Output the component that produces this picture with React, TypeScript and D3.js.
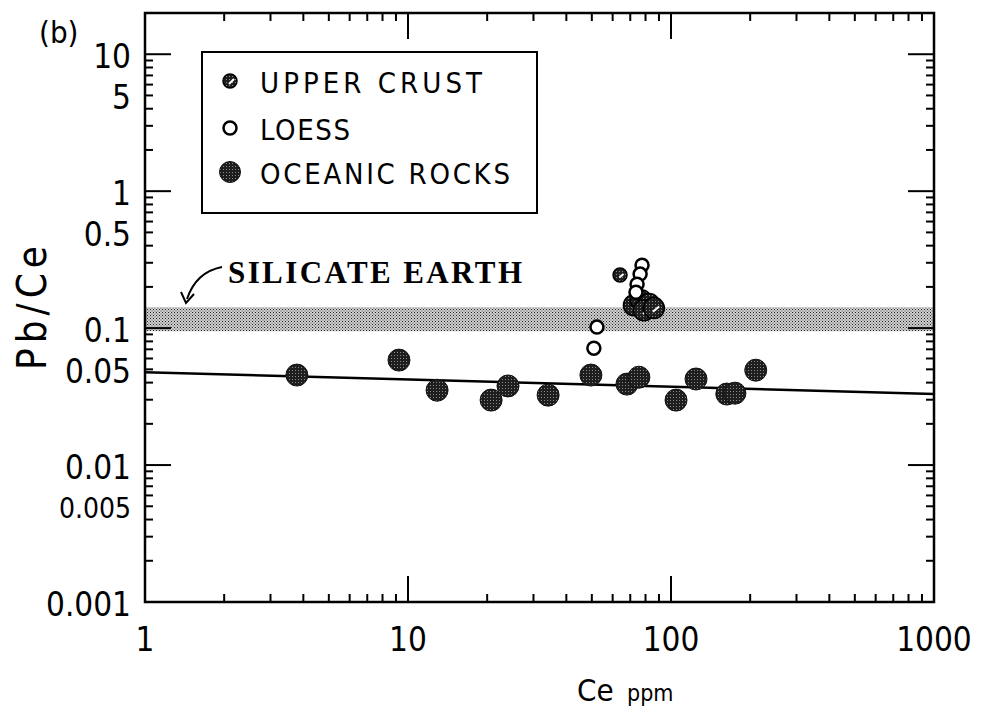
import React from "react";
import * as d3 from "d3";

// ---- Data ----
const oceanicCe = [3.78, 9.24, 12.9, 20.7, 24.0, 34.1, 49.6, 68.0, 75.5, 104.5, 124.5, 163, 175, 210];
const oceanicPbCe = [0.0454, 0.0584, 0.0352, 0.0298, 0.0378, 0.0324, 0.0454, 0.039, 0.0438, 0.0298, 0.0425, 0.033, 0.0335, 0.0493];

const crustCe = [64, 72.3, 76.9, 82.5, 78.9, 86.1];
const crustPbCe = [0.244, 0.147, 0.16, 0.15, 0.135, 0.14];
const crustSize = ["s", "l", "l", "l", "l", "l"];

const loessCe = [52.3, 50.9, 77.6, 76.3, 74.3, 73.6];
const loessPbCe = [0.1017, 0.0714, 0.288, 0.248, 0.209, 0.183];

const fitCe = [1, 1000];
const fitPbCe = [0.0477, 0.033];

const bandPbCe = [0.095, 0.142];

const xTickValues = [1, 10, 100, 1000];
const xTickLabels = ["1", "10", "100", "1000"];
const yTickValues = [10, 5, 1, 0.5, 0.1, 0.05, 0.01, 0.005, 0.001];
const yTickLabels = ["10", "5", "1", "0.5", "0.1", "0.05", "0.01", "0.005", "0.001"];

const legendLabels = ["UPPER  CRUST", "LOESS", "OCEANIC  ROCKS"];

export default function App() {
  const left = 145, right = 934, top = 13, bottom = 602;
  const x = d3.scaleLog().domain([1, 1000]).range([left, right]);
  const y = d3.scaleLog().domain([0.001, 20]).range([bottom, top]);

  const minorX: number[] = [];
  for (let d = 1; d < 1000; d *= 10) for (let k = 2; k <= 9; k++) minorX.push(d * k);
  const minorY: number[] = [];
  for (let d = 0.001; d < 10; d *= 10) for (let k = 2; k <= 9; k++) minorY.push(+(d * k).toPrecision(3));
  minorY.push(20);
  const majorX = [10, 100];
  const majorY = [0.01, 0.1, 1, 10];

  const line = d3.line<number>().x((_, i) => x(fitCe[i])).y((v) => y(v));
  const font = "'Liberation Sans Narrow','DejaVu Sans Condensed','Liberation Sans',Arial,sans-serif";
  const minorLen = 8, majorLen = 26;

  return (
    <svg width={997} height={720} style={{ position: "absolute", left: 0, top: 0, background: "#fff" }}>
      <defs>
        <pattern id="band" width="3" height="3" patternUnits="userSpaceOnUse">
          <rect width="3" height="3" fill="#d0d0d0" />
          <rect x="0" y="0" width="1" height="1" fill="#222" />
          <rect x="1.5" y="1.5" width="1" height="1" fill="#444" />
        </pattern>
        <pattern id="dark" width="3" height="3" patternUnits="userSpaceOnUse">
          <rect width="3" height="3" fill="#1e1e1e" />
          <rect x="1" y="1" width="1" height="1" fill="#8a8a8a" />
        </pattern>
      </defs>

      {/* silicate earth band */}
      <rect x={left} y={y(bandPbCe[1])} width={right - left} height={y(bandPbCe[0]) - y(bandPbCe[1])} fill="url(#band)" />

      {/* regression line */}
      <path d={line(fitPbCe) || ""} fill="none" stroke="#000" strokeWidth={2.5} />

      {/* axes frame */}
      <rect x={left} y={top} width={right - left} height={bottom - top} fill="none" stroke="#000" strokeWidth={2.5} />

      {/* ticks */}
      {minorX.map((v) => (
        <g key={"mx" + v}>
          <line x1={x(v)} x2={x(v)} y1={bottom} y2={bottom - minorLen} stroke="#000" strokeWidth={2} />
          <line x1={x(v)} x2={x(v)} y1={top} y2={top + minorLen} stroke="#000" strokeWidth={2} />
        </g>
      ))}
      {majorX.map((v) => (
        <g key={"Mx" + v}>
          <line x1={x(v)} x2={x(v)} y1={bottom} y2={bottom - majorLen} stroke="#000" strokeWidth={2} />
          <line x1={x(v)} x2={x(v)} y1={top} y2={top + majorLen} stroke="#000" strokeWidth={2} />
        </g>
      ))}
      {minorY.map((v) => (
        <g key={"my" + v}>
          <line x1={left} x2={left + minorLen} y1={y(v)} y2={y(v)} stroke="#000" strokeWidth={2} />
          <line x1={right} x2={right - minorLen} y1={y(v)} y2={y(v)} stroke="#000" strokeWidth={2} />
        </g>
      ))}
      {majorY.map((v) => (
        <g key={"My" + v}>
          <line x1={left} x2={left + majorLen} y1={y(v)} y2={y(v)} stroke="#000" strokeWidth={2} />
          <line x1={right} x2={right - majorLen} y1={y(v)} y2={y(v)} stroke="#000" strokeWidth={2} />
        </g>
      ))}

      {/* tick labels */}
      {yTickValues.map((v, i) => (
        <text key={"yl" + v} x={131} y={y(v) + 4} textAnchor="end" dominantBaseline="middle"
          fontFamily={font} fontSize={v === 0.005 ? 28 : 33} fill="#000">{yTickLabels[i]}</text>
      ))}
      {xTickValues.map((v, i) => (
        <text key={"xl" + v} x={x(v)} y={641} textAnchor="middle" dominantBaseline="middle"
          fontFamily={font} fontSize={33} fill="#000">{xTickLabels[i]}</text>
      ))}

      {/* axis titles */}
      <text x={577} y={701} fontFamily={font} fontSize={31} fill="#000">Ce</text>
      <text x={627} y={701} fontFamily={font} fontSize={23} fill="#000">ppm</text>
      <text transform="translate(46,308) rotate(-90)" textAnchor="middle" fontFamily={font} fontSize={40}
        textLength={124} lengthAdjust="spacing" fill="#000">Pb/Ce</text>
      <text x={39} y={43} fontFamily={font} fontSize={31} fill="#000">(b)</text>

      {/* silicate earth label */}
      <text x={228} y={283} fontFamily="'Liberation Serif','DejaVu Serif',serif" fontWeight="bold" fontSize={31}
        textLength={294} lengthAdjust="spacing" fill="#000">SILICATE EARTH</text>
      <path d="M222,267 Q196,272 187,299" fill="none" stroke="#000" strokeWidth={2} />
      <path d="M181,292 L186,303 L194,294" fill="none" stroke="#000" strokeWidth={2} />

      {/* oceanic rocks */}
      {oceanicCe.map((c, i) => (
        <circle key={"o" + i} cx={x(c)} cy={y(oceanicPbCe[i])} r={11} fill="url(#dark)" stroke="#111" strokeWidth={1} />
      ))}

      {/* upper crust */}
      {crustCe.map((c, i) => {
        const r = crustSize[i] === "s" ? 7 : 10.5;
        const cx = x(c), cy = y(crustPbCe[i]);
        return (
          <g key={"c" + i}>
            <circle cx={cx} cy={cy} r={r} fill="url(#dark)" stroke="#000" strokeWidth={1.5} />
            <line x1={cx - r * 0.1} y1={cy + r * 0.35} x2={cx + r * 0.5} y2={cy - r * 0.15} stroke="#fff" strokeWidth={2} />
          </g>
        );
      })}

      {/* loess */}
      {loessCe.map((c, i) => (
        <circle key={"l" + i} cx={x(c)} cy={y(loessPbCe[i])} r={6.5} fill="#fff" stroke="#000" strokeWidth={2.5} />
      ))}

      {/* legend */}
      <rect x={202} y={52} width={335} height={161} fill="#fff" stroke="#000" strokeWidth={2} />
      <circle cx={230} cy={81} r={7} fill="url(#dark)" stroke="#000" strokeWidth={1.5} />
      <line x1={229} y1={84} x2={234} y2={79} stroke="#fff" strokeWidth={2} />
      <circle cx={230} cy={128} r={6.5} fill="#fff" stroke="#000" strokeWidth={2.5} />
      <circle cx={230} cy={172} r={10.5} fill="url(#dark)" stroke="#111" strokeWidth={1} />
      <text x={260} y={93} fontFamily={font} fontSize={29} textLength={222} lengthAdjust="spacing" fill="#000">{legendLabels[0]}</text>
      <text x={260} y={140} fontFamily={font} fontSize={29} textLength={90} lengthAdjust="spacing" fill="#000">{legendLabels[1]}</text>
      <text x={260} y={184} fontFamily={font} fontSize={29} textLength={250} lengthAdjust="spacing" fill="#000">{legendLabels[2]}</text>
    </svg>
  );
}
